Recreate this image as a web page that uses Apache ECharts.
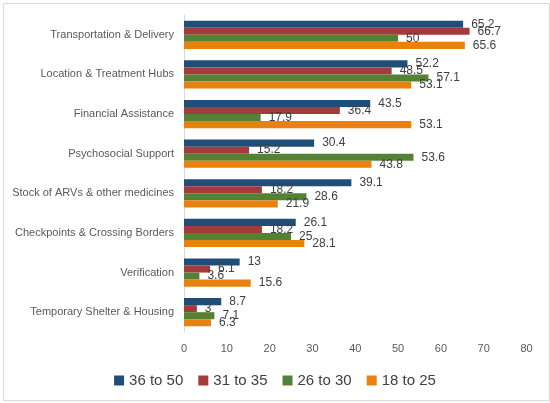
<!DOCTYPE html>
<html>
<head>
<meta charset="utf-8">
<script src="https://cdn.jsdelivr.net/npm/echarts@6/dist/echarts.min.js"></script>
<style>
html,body{margin:0;padding:0;background:#fff;}
#chart{width:550px;height:403px;}
</style>
</head>
<body>
<div id="chart"></div>
<script>
const categories = [
  "Transportation & Delivery",
  "Location & Treatment Hubs",
  "Financial Assistance",
  "Psychosocial Support",
  "Stock of ARVs & other medicines",
  "Checkpoints & Crossing Borders",
  "Verification",
  "Temporary Shelter & Housing"
];
const seriesNames = ["36 to 50", "31 to 35", "26 to 30", "18 to 25"];
const age36to50 = [65.2, 52.2, 43.5, 30.4, 39.1, 26.1, 13, 8.7];
const age31to35 = [66.7, 48.5, 36.4, 15.2, 18.2, 18.2, 6.1, 3];
const age26to30 = [50, 57.1, 17.9, 53.6, 28.6, 25, 3.6, 7.1];
const age18to25 = [65.6, 53.1, 53.1, 43.8, 21.9, 28.1, 15.6, 6.3];
const xTicks = [0, 80, 10];

const colors = ["#1F4E79", "#A33B3B", "#548235", "#E8820F"];
const values = [age36to50, age31to35, age26to30, age18to25];

const chart = echarts.init(document.getElementById('chart'));
chart.setOption({
  animation: false,
  graphic: [{
    type: 'rect', left: 1, top: 1,
    shape: {width: 546, height: 397},
    style: {fill: 'none', stroke: '#d9d9d9', lineWidth: 1}
  }],
  legend: {
    data: seriesNames,
    top: 368,
    left: 'center',
    icon: 'rect',
    itemWidth: 10,
    itemHeight: 10,
    itemGap: 15,
    textStyle: {fontSize: 15, color: '#404040', fontFamily: 'Liberation Sans'}
  },
  grid: {left: 184, right: 23.5, top: 15, bottom: 71, containLabel: false},
  xAxis: {
    type: 'value', min: xTicks[0], max: xTicks[1], interval: xTicks[2],
    axisLine: {show: false}, axisTick: {show: false},
    splitLine: {show: false},
    axisLabel: {color: '#595959', fontSize: 11, margin: 11, fontFamily: 'Liberation Sans'}
  },
  yAxis: {
    type: 'category', data: categories, inverse: true,
    axisLine: {show: true, lineStyle: {color: '#d9d9d9'}},
    axisTick: {show: false},
    axisLabel: {color: '#595959', fontSize: 11, margin: 10, fontFamily: 'Liberation Sans'}
  },
  series: seriesNames.map((name, i) => ({
    name: name,
    type: 'bar',
    data: values[i],
    barGap: '0%',
    barCategoryGap: '29%',
    itemStyle: {color: colors[i]},
    label: {
      show: true, position: 'right', distance: 8,
      color: '#404040', fontSize: 12, fontFamily: 'Liberation Sans'
    }
  }))
});
</script>
</body>
</html>
